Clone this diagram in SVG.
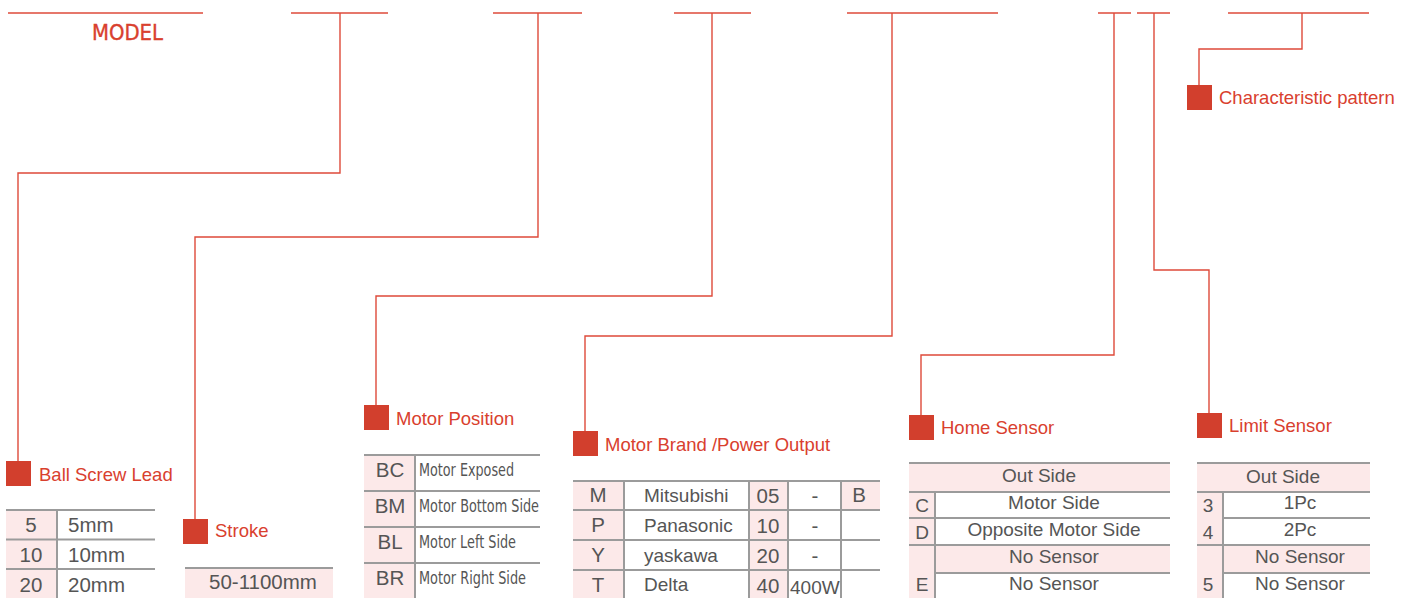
<svg xmlns="http://www.w3.org/2000/svg" width="1412" height="598" viewBox="0 0 1412 598">
<style>
.bar{stroke:#de4a3a;stroke-width:1.6;fill:none}
.con{stroke:#de4a3a;stroke-width:1.4;fill:none}
.sq{fill:#d23f2d}
.lbl{font-family:"Liberation Sans",Arial,sans-serif;font-size:18.5px;fill:#d9402e}
.tl{stroke:#9b9b9b;stroke-width:2;fill:none}
.pk{fill:#fce9e9}
.t{font-family:"Liberation Sans",Arial,sans-serif;font-size:20.5px;fill:#555}
.ts{font-family:"Liberation Sans",Arial,sans-serif;font-size:19px;fill:#555}
.c{text-anchor:middle}
.cd{font-family:"DejaVu Sans Condensed","DejaVu Sans",sans-serif;font-size:18.5px;fill:#555}
</style>
<rect width="1412" height="598" fill="#fff"/>
<g id="model">
<line class="bar" x1="8" y1="13" x2="203" y2="13"/>
<text x="92" y="40" font-family="DejaVu Sans Condensed,DejaVu Sans,sans-serif" font-size="22" fill="#d9402e" stroke="#d9402e" stroke-width="0.35" textLength="71" lengthAdjust="spacingAndGlyphs">MODEL</text>
</g>
<g id="connectors">
<line class="bar" x1="291" y1="13" x2="388" y2="13"/>
<line class="bar" x1="493" y1="13" x2="582" y2="13"/>
<line class="bar" x1="674" y1="13" x2="751" y2="13"/>
<line class="bar" x1="847" y1="13" x2="998" y2="13"/>
<line class="bar" x1="1098" y1="13" x2="1131" y2="13"/>
<line class="bar" x1="1137" y1="13" x2="1170" y2="13"/>
<line class="bar" x1="1228" y1="13" x2="1369" y2="13"/>
<polyline class="con" points="340,13 340,173 18,173 18,462"/>
<polyline class="con" points="538,13 538,237 195,237 195,519"/>
<polyline class="con" points="712,13 712,296 376,296 376,406"/>
<polyline class="con" points="892,13 892,336 585,336 585,432"/>
<polyline class="con" points="1114,13 1114,355 921,355 921,416"/>
<polyline class="con" points="1154,13 1154,270 1209,270 1209,414"/>
<polyline class="con" points="1302,13 1302,49 1199,49 1199,86"/>
</g>
<g id="characteristic">
<rect class="sq" x="1187" y="85" width="25" height="25"/>
<text class="lbl" x="1219" y="104">Characteristic pattern</text>
</g>
<g id="ball-screw-lead">
<rect class="sq" x="6" y="461" width="25" height="25"/>
<text class="lbl" x="39" y="481">Ball Screw Lead</text>
<rect class="pk" x="6" y="510" width="51" height="88"/>
<line class="tl" x1="6" y1="510" x2="155" y2="510"/>
<line class="tl" x1="6" y1="539.5" x2="155" y2="539.5"/>
<line class="tl" x1="6" y1="569" x2="155" y2="569"/>
<line class="tl" x1="57" y1="510" x2="57" y2="598"/>
<text class="t c" x="31" y="532">5</text><text class="t" x="68" y="532">5mm</text>
<text class="t c" x="31" y="562">10</text><text class="t" x="68" y="562">10mm</text>
<text class="t c" x="31" y="592">20</text><text class="t" x="68" y="592">20mm</text>
</g>
<g id="stroke">
<rect class="sq" x="183" y="519" width="25" height="25"/>
<text class="lbl" x="215" y="537">Stroke</text>
<rect class="pk" x="185" y="568" width="148" height="30"/>
<line class="tl" x1="185" y1="568" x2="333" y2="568"/>
<text class="t c" x="263" y="589" font-size="21">50-1100mm</text>
</g>
<g id="motor-position">
<rect class="sq" x="364" y="405" width="25" height="25"/>
<text class="lbl" x="396" y="425">Motor Position</text>
<rect class="pk" x="364" y="455" width="51" height="143"/>
<line class="tl" x1="364" y1="455" x2="540" y2="455"/>
<line class="tl" x1="364" y1="491" x2="540" y2="491"/>
<line class="tl" x1="364" y1="527" x2="540" y2="527"/>
<line class="tl" x1="364" y1="563" x2="540" y2="563"/>
<line class="tl" x1="415" y1="455" x2="415" y2="598"/>
<text class="t c" x="390" y="477">BC</text>
<text class="t c" x="390" y="513">BM</text>
<text class="t c" x="390" y="549">BL</text>
<text class="t c" x="390" y="585">BR</text>
<text class="cd" x="419" y="476" textLength="95" lengthAdjust="spacingAndGlyphs">Motor Exposed</text>
<text class="cd" x="419" y="512" textLength="120" lengthAdjust="spacingAndGlyphs">Motor Bottom Side</text>
<text class="cd" x="419" y="548" textLength="97" lengthAdjust="spacingAndGlyphs">Motor Left Side</text>
<text class="cd" x="419" y="584" textLength="107" lengthAdjust="spacingAndGlyphs">Motor Right Side</text>
</g>
<g id="motor-brand">
<rect class="sq" x="573" y="431" width="25" height="25"/>
<text class="lbl" x="605" y="451">Motor Brand /Power Output</text>
<rect class="pk" x="573" y="481" width="51" height="117"/>
<rect class="pk" x="749" y="481" width="39" height="117"/>
<rect class="pk" x="841" y="481" width="39" height="29"/>
<line class="tl" x1="573" y1="481" x2="880" y2="481"/>
<line class="tl" x1="573" y1="510" x2="880" y2="510"/>
<line class="tl" x1="573" y1="540" x2="880" y2="540"/>
<line class="tl" x1="573" y1="570" x2="880" y2="570"/>
<line class="tl" x1="624" y1="481" x2="624" y2="598"/>
<line class="tl" x1="749" y1="481" x2="749" y2="598"/>
<line class="tl" x1="788" y1="481" x2="788" y2="598"/>
<line class="tl" x1="841" y1="481" x2="841" y2="598"/>
<text class="t c" x="598" y="502">M</text><text class="ts" x="644" y="502">Mitsubishi</text><text class="t c" x="768" y="503">05</text><text class="t c" x="815" y="503">-</text><text class="t c" x="859" y="502">B</text>
<text class="t c" x="598" y="532">P</text><text class="ts" x="644" y="532">Panasonic</text><text class="t c" x="768" y="533">10</text><text class="t c" x="815" y="533">-</text>
<text class="t c" x="598" y="562">Y</text><text class="ts" x="644" y="562">yaskawa</text><text class="t c" x="768" y="563">20</text><text class="t c" x="815" y="563">-</text>
<text class="t c" x="598" y="592">T</text><text class="ts" x="644" y="591">Delta</text><text class="t c" x="768" y="593">40</text><text class="ts" x="790" y="594" font-size="17.5">400W</text>
</g>
<g id="home-sensor">
<rect class="sq" x="909" y="415" width="25" height="25"/>
<text class="lbl" x="941" y="434">Home Sensor</text>
<rect class="pk" x="909" y="463" width="261" height="29"/>
<rect class="pk" x="909" y="492" width="26" height="106"/>
<rect class="pk" x="935" y="545" width="235" height="28"/>
<line class="tl" x1="909" y1="463" x2="1170" y2="463"/>
<line class="tl" x1="909" y1="492" x2="1170" y2="492"/>
<line class="tl" x1="909" y1="518" x2="1170" y2="518"/>
<line class="tl" x1="909" y1="545" x2="1170" y2="545"/>
<line class="tl" x1="935" y1="573" x2="1170" y2="573"/>
<line class="tl" x1="935" y1="492" x2="935" y2="598"/>
<text class="ts c" x="1039" y="482">Out Side</text>
<text class="ts c" x="922" y="512">C</text><text class="ts c" x="1054" y="509">Motor Side</text>
<text class="ts c" x="922" y="539">D</text><text class="ts c" x="1054" y="536">Opposite Motor Side</text>
<text class="ts c" x="1054" y="563">No Sensor</text>
<text class="ts c" x="922" y="591">E</text><text class="ts c" x="1054" y="590">No Sensor</text>
</g>
<g id="limit-sensor">
<rect class="sq" x="1197" y="413" width="25" height="25"/>
<text class="lbl" x="1229" y="432">Limit Sensor</text>
<rect class="pk" x="1197" y="463" width="173" height="29"/>
<rect class="pk" x="1197" y="492" width="26" height="106"/>
<rect class="pk" x="1223" y="545" width="147" height="28"/>
<line class="tl" x1="1197" y1="463" x2="1370" y2="463"/>
<line class="tl" x1="1197" y1="492" x2="1370" y2="492"/>
<line class="tl" x1="1223" y1="518" x2="1370" y2="518"/>
<line class="tl" x1="1197" y1="545" x2="1370" y2="545"/>
<line class="tl" x1="1223" y1="573" x2="1370" y2="573"/>
<line class="tl" x1="1223" y1="492" x2="1223" y2="598"/>
<text class="ts c" x="1283" y="483">Out Side</text>
<text class="ts c" x="1208" y="512">3</text><text class="ts c" x="1300" y="509">1Pc</text>
<text class="ts c" x="1208" y="539">4</text><text class="ts c" x="1300" y="536">2Pc</text>
<text class="ts c" x="1300" y="563">No Sensor</text>
<text class="ts c" x="1208" y="591">5</text><text class="ts c" x="1300" y="590">No Sensor</text>
</g>
</svg>
